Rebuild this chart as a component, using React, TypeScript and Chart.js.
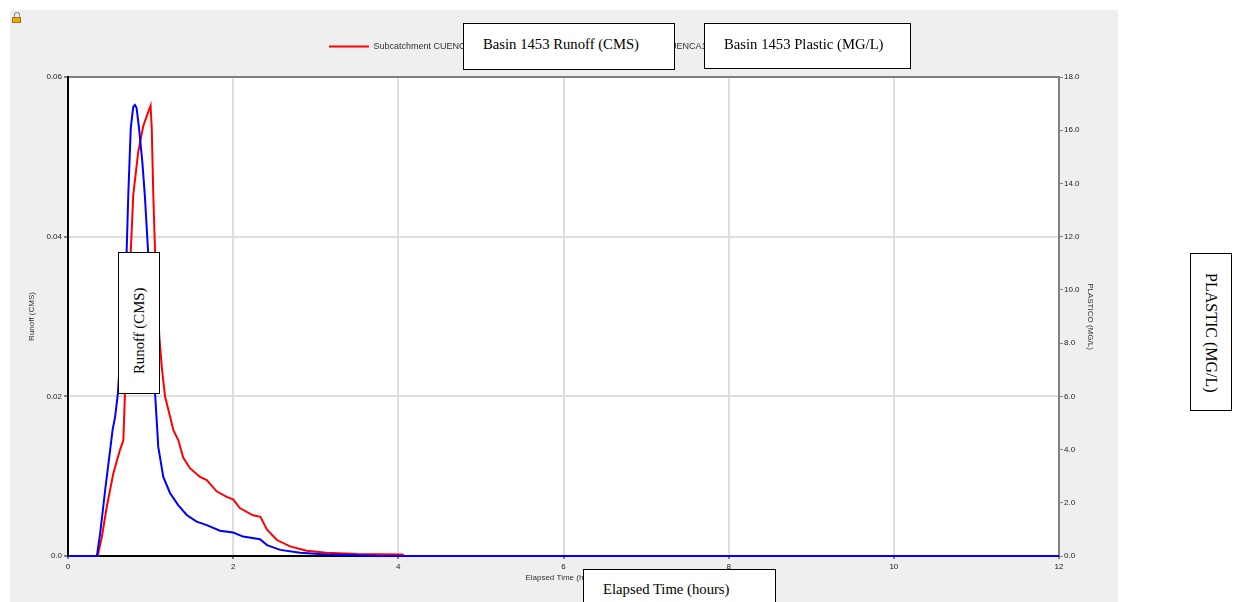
import React, { useEffect, useRef } from "react";
import { Chart, registerables } from "chart.js";

Chart.register(...registerables);

// ---- Data ----
const seriesLabels = [
  "Subcatchment CUENCA1453 Runoff (CMS)",
  "Subcatchment CUENCA1453 PLASTICO (MG/L)",
];

// Red series: runoff (CMS), left axis
const runoffTime = [
  0, 0.36, 0.41, 0.47, 0.55, 0.63, 0.67, 0.69, 0.76, 0.79, 0.85, 0.91, 0.95, 1.0,
  1.014, 1.033, 1.054, 1.106, 1.135, 1.175, 1.235, 1.275, 1.336, 1.396, 1.477,
  1.598, 1.68, 1.8, 1.92, 2.0, 2.08, 2.24, 2.33, 2.41, 2.53, 2.69, 2.89, 3.13,
  3.5, 4.05, 4.07, 12,
];
const runoffCms = [
  0, 0, 0.0024, 0.0062, 0.0104, 0.0133, 0.0145, 0.0204, 0.0381, 0.0452, 0.0506,
  0.0538, 0.055, 0.0564, 0.0536, 0.0452, 0.0381, 0.0275, 0.0237, 0.02, 0.0175,
  0.0158, 0.0145, 0.0123, 0.011, 0.0099, 0.0095, 0.0081, 0.0074, 0.0071, 0.006,
  0.0051, 0.0049, 0.0033, 0.002, 0.0012, 0.00066, 0.00041, 0.00025, 0.0002, 0, 0,
];

// Blue series: plastic concentration (MG/L), right axis
const plasticTime = [
  0, 0.35, 0.39, 0.45, 0.51, 0.54, 0.57, 0.605, 0.71, 0.73, 0.76, 0.79, 0.81,
  0.83, 0.86, 0.9, 0.93, 0.97, 1.054, 1.093, 1.154, 1.235, 1.332, 1.437, 1.558,
  1.68, 1.84, 2.0, 2.12, 2.325, 2.41, 2.57, 2.81, 3.13, 3.5, 3.8, 12,
];
const plasticMgL = [
  0, 0, 0.86, 2.48, 3.98, 4.74, 5.22, 6.13, 11.44, 13.57, 16.08, 16.88, 16.95,
  16.84, 16.08, 14.81, 13.57, 11.44, 6.13, 4.1, 2.97, 2.37, 1.92, 1.54, 1.29,
  1.16, 0.95, 0.88, 0.73, 0.63, 0.41, 0.23, 0.12, 0.06, 0.03, 0, 0,
];

const xTicks = [0, 2, 4, 6, 8, 10, 12];
const runoffTicks = [0, 0.02, 0.04, 0.06];
const plasticTicks = [0, 2, 4, 6, 8, 10, 12, 14, 16, 18];

const axisTitles = {
  x: "Elapsed Time (hours)",
  left: "Runoff (CMS)",
  right: "PLASTICO (MG/L)",
};

const overlayTexts = {
  runoffSeries: "Basin 1453 Runoff (CMS)",
  plasticSeries: "Basin 1453 Plastic (MG/L)",
  leftAxis: "Runoff (CMS)",
  rightAxis: "PLASTIC (MG/L)",
  xAxis: "Elapsed Time (hours)",
};

const SANS = "'Liberation Sans', Arial, sans-serif";
const SERIF = "'Liberation Serif', 'Times New Roman', serif";
const smallFont = { family: SANS, size: 8 };
const legendFont = { family: SANS, size: 9 };

const bgPlugin = {
  id: "plotBg",
  beforeDraw(chart: any) {
    const { ctx, chartArea, width, height } = chart;
    ctx.save();
    ctx.fillStyle = "#efefef";
    ctx.fillRect(0, 0, width, height);
    ctx.fillStyle = "#ffffff";
    ctx.fillRect(chartArea.left, chartArea.top, chartArea.right - chartArea.left, chartArea.bottom - chartArea.top);
    ctx.restore();
  },
};

function ChartCanvas() {
  const ref = useRef<HTMLCanvasElement | null>(null);
  useEffect(() => {
    if (!ref.current) return;
    const chart = new Chart(ref.current, {
      type: "line",
      data: {
        datasets: [
          {
            label: seriesLabels[0],
            data: runoffTime.map((t, i) => ({ x: t, y: runoffCms[i] })),
            borderColor: "#ff0000",
            backgroundColor: "#ff0000",
            borderWidth: 2,
            pointRadius: 0,
            tension: 0,
            yAxisID: "y",
            xAxisID: "x",
            order: 1,
            clip: false,
          },
          {
            label: seriesLabels[1],
            data: plasticTime.map((t, i) => ({ x: t, y: plasticMgL[i] })),
            borderColor: "#0000ff",
            backgroundColor: "#0000ff",
            borderWidth: 2,
            pointRadius: 0,
            tension: 0,
            yAxisID: "y1",
            xAxisID: "x",
            order: 0,
            clip: false,
          },
        ],
      },
      options: {
        animation: false,
        responsive: false,
        maintainAspectRatio: false,
        layout: { padding: { top: 22, left: 0, right: 0, bottom: 0 } },
        plugins: {
          tooltip: { enabled: false },
          legend: {
            position: "top",
            labels: {
              boxWidth: 40,
              boxHeight: 2,
              padding: 10,
              color: "#333333",
              font: legendFont,
              sort: (a: any, b: any) => a.datasetIndex - b.datasetIndex,
              generateLabels: (c: any) =>
                (Chart.defaults.plugins.legend.labels as any)
                  .generateLabels(c)
                  .map((l: any) => ({ ...l, lineWidth: 0 })),
            },
          },
        },
        scales: {
          x: {
            type: "linear",
            position: "bottom",
            min: 0,
            max: 12,
            afterBuildTicks: (s: any) => {
              s.ticks = xTicks.map((v) => ({ value: v }));
            },
            afterFit: (s: any) => {
              s.height = 46;
            },
            ticks: { color: "#222222", font: smallFont, padding: 3, maxRotation: 0, callback: (v: any) => String(v) },
            grid: { color: "#dedede", lineWidth: 2, tickLength: 3, tickColor: "#808080" },
            border: { color: "#000000", width: 2 },
            title: { display: true, text: axisTitles.x, color: "#333333", font: smallFont, padding: { top: 0, bottom: 19 } },
          },
          x2: {
            type: "linear",
            position: "top",
            min: 0,
            max: 12,
            afterFit: (s: any) => {
              s.height = 16;
            },
            ticks: { display: false },
            grid: { display: false },
            border: { color: "#808080", width: 2 },
          },
          y: {
            type: "linear",
            position: "left",
            min: 0,
            max: 0.06,
            afterBuildTicks: (s: any) => {
              s.ticks = runoffTicks.map((v) => ({ value: v }));
            },
            afterFit: (s: any) => {
              s.width = 58;
            },
            ticks: {
              color: "#222222",
              font: smallFont,
              padding: 2,
              callback: (v: any) => (v === 0 ? "0.0" : Number(v).toFixed(2)),
            },
            grid: { color: "#dedede", lineWidth: 2, tickLength: 4, tickColor: "#808080" },
            border: { color: "#000000", width: 2 },
            title: { display: true, text: axisTitles.left, color: "#333333", font: smallFont, padding: { top: 17, bottom: 0 } },
          },
          y1: {
            type: "linear",
            position: "right",
            min: 0,
            max: 18,
            afterBuildTicks: (s: any) => {
              s.ticks = plasticTicks.map((v) => ({ value: v }));
            },
            afterFit: (s: any) => {
              s.width = 59;
            },
            ticks: {
              color: "#222222",
              font: smallFont,
              padding: 1,
              callback: (v: any) => Number(v).toFixed(1),
            },
            grid: { drawOnChartArea: false, tickLength: 4, tickColor: "#808080" },
            border: { color: "#808080", width: 2 },
            title: { display: true, text: axisTitles.right, color: "#333333", font: smallFont, padding: { top: 23, bottom: 0 } },
          },
        },
      },
      plugins: [bgPlugin],
    } as any);
    return () => chart.destroy();
  }, []);
  return (
    <canvas
      ref={ref}
      width={1108}
      height={592}
      style={{ position: "absolute", left: 10, top: 10, width: 1108, height: 592, display: "block" }}
    />
  );
}

const boxBase: React.CSSProperties = {
  position: "absolute",
  background: "#ffffff",
  border: "1px solid #000000",
  boxSizing: "border-box",
  fontFamily: SERIF,
  color: "#000000",
  whiteSpace: "nowrap",
  overflow: "hidden",
};

function HBox(props: { left: number; top: number; width: number; height: number; text: string; size: number; lift: number }) {
  const { left, top, width, height, text, size, lift } = props;
  return (
    <div
      style={{
        ...boxBase,
        left,
        top,
        width,
        height,
        fontSize: size,
        display: "flex",
        alignItems: "center",
        paddingLeft: 19,
        paddingBottom: lift,
      }}
    >
      {text}
    </div>
  );
}

function VBox(props: { left: number; top: number; width: number; height: number; text: string; size: number; dir: -1 | 1 }) {
  const { left, top, width, height, text, size, dir } = props;
  return (
    <div style={{ ...boxBase, left, top, width, height }}>
      <div
        style={{
          position: "absolute",
          left: (width - 2 - (height - 2)) / 2,
          top: (height - 2 - (width - 2)) / 2,
          width: height - 2,
          height: width - 2,
          transform: `rotate(${dir * 90}deg)`,
          display: "flex",
          alignItems: "center",
          paddingLeft: 19,
          boxSizing: "border-box",
          fontSize: size,
          fontFamily: SERIF,
          whiteSpace: "nowrap",
        }}
      >
        {text}
      </div>
    </div>
  );
}

export default function App() {
  return (
    <div
      style={{
        position: "fixed",
        left: 0,
        top: 0,
        width: 1235,
        height: 602,
        overflow: "hidden",
        background: "#ffffff",
      }}
    >
      <ChartCanvas />
      {/* small padlock icon */}
      <div
        style={{
          position: "absolute",
          left: 14,
          top: 12,
          width: 4,
          height: 5,
          border: "1.5px solid #8c8c8c",
          borderBottom: "none",
          borderRadius: "3px 3px 0 0",
        }}
      />
      <div
        style={{
          position: "absolute",
          left: 12,
          top: 17,
          width: 9,
          height: 6,
          background: "#e6a817",
          border: "1px solid #a87400",
          boxSizing: "border-box",
        }}
      />
      <HBox left={463} top={23} width={212} height={47} text={overlayTexts.runoffSeries} size={14.7} lift={4} />
      <HBox left={704} top={23} width={207} height={46} text={overlayTexts.plasticSeries} size={14.7} lift={4} />
      <HBox left={583} top={569} width={193} height={40} text={overlayTexts.xAxis} size={14.7} lift={0} />
      <VBox left={118} top={252} width={42} height={142} text={overlayTexts.leftAxis} size={14.8} dir={-1} />
      <VBox left={1190} top={253} width={42} height={158} text={overlayTexts.rightAxis} size={16} dir={1} />
    </div>
  );
}
